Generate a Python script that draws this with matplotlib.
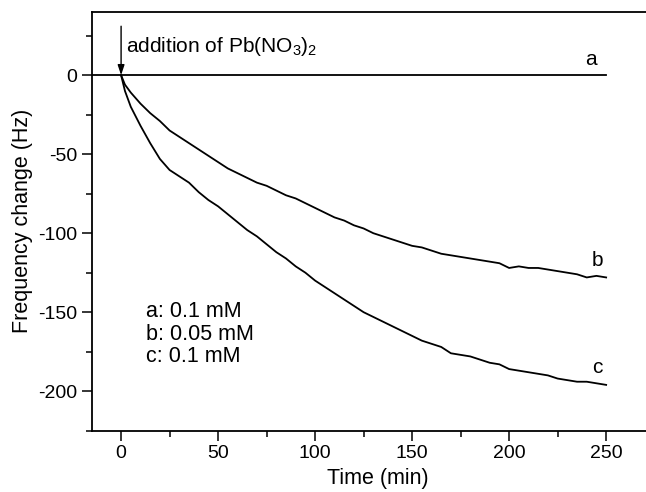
import numpy as np
import matplotlib
matplotlib.use('Agg')
import matplotlib.pyplot as plt
from matplotlib.ticker import MultipleLocator

plt.rcParams['font.family'] = ['Liberation Sans', 'DejaVu Sans']
plt.rcParams['mathtext.fontset'] = 'custom'
plt.rcParams['mathtext.rm'] = 'Liberation Sans'
plt.rcParams['mathtext.default'] = 'regular'
plt.rcParams['axes.unicode_minus'] = False

# --- datos ---
t_a = [-15, 250]
f_a = [0, 0]

t_bc = [0, 2, 5, 10, 15, 20, 25, 30, 35, 40, 45, 50, 55, 60, 65, 70, 75, 80, 85, 90,
        95, 100, 105, 110, 115, 120, 125, 130, 135, 140, 145, 150, 155, 160, 165, 170,
        175, 180, 185, 190, 195, 200, 205, 210, 215, 220, 225, 230, 235, 240, 245, 250]
f_b = [0, -6, -11, -18, -24, -29, -35, -39, -43, -47, -51, -55, -59, -62, -65, -68,
       -70, -73, -76, -78, -81, -84, -87, -90, -92, -95, -97, -100, -102, -104, -106,
       -108, -109, -111, -113, -114, -115, -116, -117, -118, -119, -122, -121, -122,
       -122, -123, -124, -125, -126, -128, -127, -128]
f_c = [0, -10, -20, -32, -43, -53, -60, -64, -68, -74, -79, -83, -88, -93, -98, -102,
       -107, -112, -116, -121, -125, -130, -134, -138, -142, -146, -150, -153, -156,
       -159, -162, -165, -168, -170, -172, -176, -177, -178, -180, -182, -183, -186,
       -187, -188, -189, -190, -192, -193, -194, -194, -195, -196]

curve_labels = ['a', 'b', 'c']
label_pos = [(242, 10), (245.5, -117), (245.5, -185)]
legend_lines = ['a: 0.1 mM', 'b: 0.05 mM', 'c: 0.1 mM']

fig = plt.figure(figsize=(6.46, 4.92), dpi=100)
ax = fig.add_axes([0.1424, 0.1246, 0.886, 0.851])

ax.plot(t_a, f_a, color='black', lw=1.3)
ax.plot(t_bc, f_b, color='black', lw=1.3)
ax.plot(t_bc, f_c, color='black', lw=1.3)

for lab, (x, y) in zip(curve_labels, label_pos):
    ax.text(x, y, lab, fontsize=15, ha='center', va='center')

ax.text(12.7, -143, '\n'.join(legend_lines), fontsize=15.5, ha='left', va='top',
        linespacing=1.1)

# flecha de adicion
ax.annotate('', xy=(0, 0), xytext=(0, 31),
            arrowprops=dict(arrowstyle='-|>,head_length=0.6,head_width=0.2',
                            color='black', lw=1, shrinkA=0, shrinkB=0))
ax.text(2.4, 18, 'addition of Pb(NO$_3$)$_2$', fontsize=15, ha='left', va='center')

ax.set_xlim(-15, 280)
ax.set_ylim(-225, 40)
ax.xaxis.set_major_locator(MultipleLocator(50))
ax.xaxis.set_minor_locator(MultipleLocator(25))
ax.yaxis.set_major_locator(MultipleLocator(50))
ax.yaxis.set_minor_locator(MultipleLocator(25))
ax.tick_params(which='major', direction='out', length=7, width=1.1, labelsize=14)
ax.tick_params(which='minor', direction='out', length=4, width=1.1)
for s in ax.spines.values():
    s.set_linewidth(1.3)

ax.set_xlabel('Time (min)', fontsize=15.5, labelpad=4)
ax.set_ylabel('Frequency change (Hz)', fontsize=15.5, labelpad=4)

fig.savefig('out.png', dpi=100)
